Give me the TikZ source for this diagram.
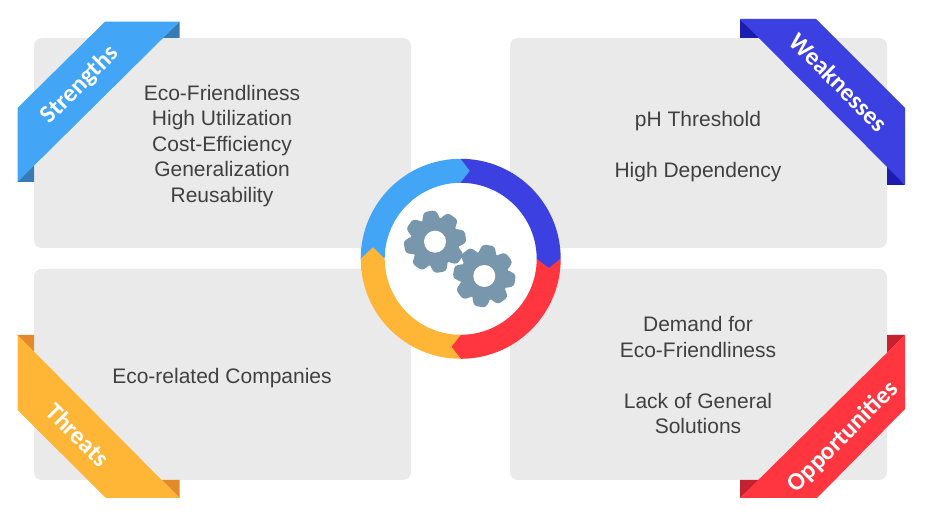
\documentclass[tikz,border=0pt]{standalone}
\usepackage{fontspec}
\setmainfont{Liberation Sans}
\newfontfamily\ribbonfont{Carlito}
\usetikzlibrary{positioning}
\definecolor{panelgray}{HTML}{EAEAEA}
\definecolor{textgray}{HTML}{404040}
\definecolor{sblue}{HTML}{42A5F5}
\definecolor{sdark}{HTML}{377BB5}
\definecolor{windigo}{HTML}{3C40E0}
\definecolor{wdark}{HTML}{1A1DB0}
\definecolor{ored}{HTML}{FF363F}
\definecolor{odark}{HTML}{C52230}
\definecolor{torange}{HTML}{FFB535}
\definecolor{tdark}{HTML}{E38A2A}
\definecolor{gearcol}{HTML}{7896AC}

\tikzset{
	x=1pt, y=1pt,
	panel/.style={fill=panelgray, rounded corners=8pt, minimum width=377pt, inner sep=0pt},
	paneltext/.style={text=textgray, align=center, font=\fontsize{21}{25.5}\selectfont},
	ribbontext/.style={text=white, font=\ribbonfont\fontsize{25}{25}\selectfont\bfseries},
}

\begin{document}
\begin{tikzpicture}
	\newcommand\ringr{100}
	\newcommand\ringi{76}
	\newcommand\ringm{88.5}
	\useasboundingbox (0,0) rectangle (927,511);
	% panels
	\node [panel, minimum height=210pt] (st) at (222.5,368) {};
	\node [panel, minimum height=210pt] (we) at (698.5,368) {};
	\node [panel, minimum height=211pt] (th) at (222.5,136.5) {};
	\node [panel, minimum height=211pt] (op) at (698.5,136.5) {};
	% panel texts
	\node [paneltext] (sttext) at (222,365) {Eco-Friendliness\\High Utilization\\Cost-Efficiency\\Generalization\\Reusability};
	\node [paneltext] (wetext) at (698,364.5) {pH Threshold\\[25.5pt]High Dependency};
	\node [paneltext] (thtext) at (222,133) {Eco-related Companies};
	\node [paneltext] (optext) at (698,136) {Demand for\\Eco-Friendliness\\[25.5pt]Lack of General\\Solutions};
	% ribbons
	\fill [sdark] (179.5,489.3) -- (179.5,473) -- (162,473) -- cycle;
	\fill [sdark] (17.5,329) -- (34,329) -- (34,346) -- cycle;
	\fill [sblue] (17.5,403) -- (105,489.3) -- (179.5,489.3) -- (17.5,329) -- cycle;
	\fill [wdark] (740,492) -- (740,473) -- (760,473) -- cycle;
	\fill [wdark] (905,326) -- (887,326) -- (887,346) -- cycle;
	\fill [windigo] (740,492) -- (816,492) -- (905,403) -- (905,326) -- cycle;
	\fill [odark] (905,176) -- (887,176) -- (887,158) -- cycle;
	\fill [odark] (740,13) -- (740,31) -- (759,31) -- cycle;
	\fill [ored] (905,176) -- (905,102) -- (817,13) -- (740,13) -- cycle;
	\fill [tdark] (17.5,176) -- (34,176) -- (34,159) -- cycle;
	\fill [tdark] (179.5,13) -- (179.5,31) -- (162,31) -- cycle;
	\fill [torange] (17.5,176) -- (17.5,101) -- (106,13) -- (179.5,13) -- cycle;
	% ribbon labels
	\node [ribbontext, rotate=45] (stlabel) at (80,426) {Strengths};
	\node [ribbontext, rotate=-45] (welabel) at (839,429) {Weaknesses};
	\node [ribbontext, rotate=-45] (thlabel) at (78,76) {Threats};
	\node [ribbontext, rotate=45] (oplabel) at (843,74) {Opportunities};
	% ring
	\coordinate (ring) at (460.7,252.2);
	\fill [white] (ring) circle (\ringi);
	\foreach \segcol/\a in {sblue/180, windigo/90, ored/0, torange/-90} {
		\fill [\segcol, shift={(ring)}] (\a:\ringr) arc (\a:\a-90:\ringr)
			-- (\a-97.5:\ringm) -- (\a-90:\ringi) arc (\a-90:\a:\ringi)
			-- (\a-6:\ringm) -- cycle;
	}
	% gears
	\coordinate (gearone) at (435,269.3);
	\coordinate (geartwo) at (484.3,235);
	\foreach \gearc/\gearoff in {gearone/10, geartwo/-8} {
		\fill [gearcol] (\gearc) circle (24.5);
		\foreach \k in {0,...,7} {
			\fill [gearcol, rounded corners=3pt, shift={(\gearc)}, rotate=\gearoff+45*\k]
				(-9.5,21) -- (-6,31) -- (6,31) -- (9.5,21) -- cycle;
		}
		\fill [white] (\gearc) circle (11);
	}
\end{tikzpicture}
\end{document}
